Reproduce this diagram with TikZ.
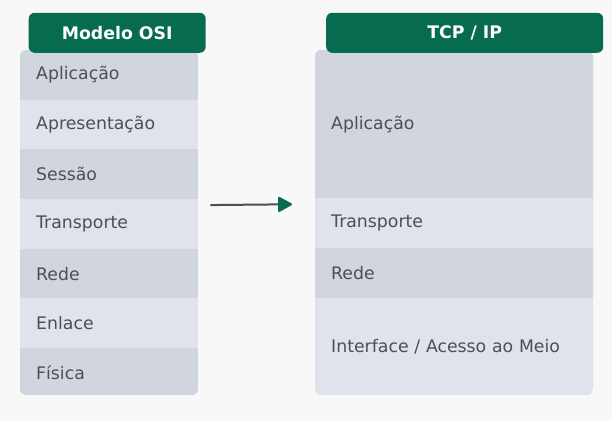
\documentclass[tikz,border=0pt]{standalone}
\usepackage{fontspec}
\setmainfont{DejaVu Sans}
\usetikzlibrary{arrows.meta, positioning}

\definecolor{hdrgreen}{HTML}{066B4F}
\definecolor{rowdark}{HTML}{D1D5DE}
\definecolor{rowlight}{HTML}{E0E3EB}
\definecolor{txtgray}{HTML}{4A4F58}
\definecolor{bggray}{HTML}{F8F8F8}

\begin{document}
\begin{tikzpicture}[
  x=1pt, y=1pt,
  font=\fontsize{17.3}{20}\selectfont,
  header/.style={rectangle, rounded corners=6pt, fill=hdrgreen, text=white, anchor=south, font=\fontsize{17.3}{20}\selectfont\bfseries, minimum height=40pt, inner sep=0pt},
  layer/.style ={rectangle, minimum height=49.29pt, inner xsep=16pt, inner ysep=0pt, align=left, text=txtgray},
  dark/.style  ={fill=rowdark, draw=rowdark},
  light/.style ={fill=rowlight, draw=rowlight},
  osirow/.style={layer, text width=146pt},
  tcprow/.style={layer, text width=246pt},
  flow/.style  ={-{Triangle[length=15pt, width=16pt, round, color=hdrgreen]}, line width=2pt, draw=txtgray}
  ]

  \fill[bggray] (0,0) rectangle (612,421);
  \useasboundingbox (0,0) rectangle (612,421);

  % Modelo OSI
  \begin{scope}
    \clip[rounded corners=6pt] (20,26) rectangle (198,371);
    \node[osirow, dark, anchor=north west] (osi1) at (20,371) {Aplicação};
    \node[osirow, light, below=0pt of osi1] (osi2) {Apresentação};
    \node[osirow, dark,  below=0pt of osi2] (osi3) {Sessão};
    \node[osirow, light, below=0pt of osi3] (osi4) {Transporte};
    \node[osirow, dark,  below=0pt of osi4] (osi5) {Rede};
    \node[osirow, light, below=0pt of osi5] (osi6) {Enlace};
    \node[osirow, dark,  below=0pt of osi6] (osi7) {Física};
  \end{scope}
  \node[header, minimum width=177pt] (osihdr) at ([xshift=8pt, yshift=-3pt]osi1.north) {Modelo OSI};

  % TCP/IP
  \begin{scope}
    \clip[rounded corners=6pt] (315,26) rectangle (593,371);
    \node[tcprow, dark, minimum height=147.87pt, anchor=north west] (tcp1) at (315,371) {Aplicação};
    \node[tcprow, light, below=0pt of tcp1] (tcp2) {Transporte};
    \node[tcprow, dark,  below=0pt of tcp2] (tcp3) {Rede};
    \node[tcprow, light, minimum height=98.58pt, below=0pt of tcp3] (tcp4) {Interface / Acesso ao Meio};
  \end{scope}
  \node[header, minimum width=277pt] (tcphdr) at ([xshift=10.5pt, yshift=-3pt]tcp1.north) {TCP / IP};

  \draw[flow] ([xshift=12pt, yshift=-6pt]osi4.north east) -- ([xshift=-23pt, yshift=-6pt]tcp2.north west);

\end{tikzpicture}
\end{document}
